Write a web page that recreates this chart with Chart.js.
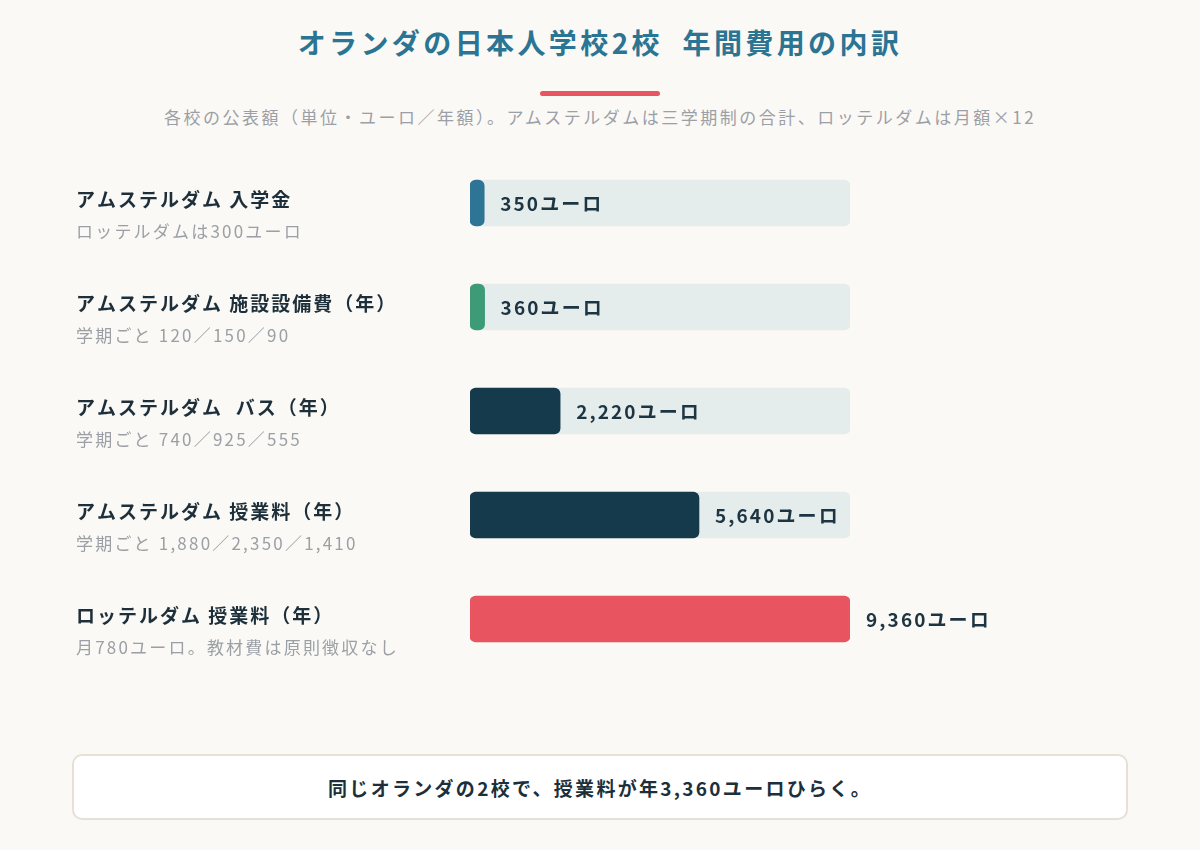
<!DOCTYPE html>
<html lang="ja">
<head>
<meta charset="utf-8">
<script src="https://cdn.jsdelivr.net/npm/chart.js@4.4.1/dist/chart.umd.min.js"></script>
<style>
  html, body { margin: 0; padding: 0; }
  body {
    width: 1200px; height: 850px; position: relative; overflow: hidden;
    background: #fbf9f5;
    font-family: "Noto Sans CJK JP", "Noto Sans", sans-serif;
  }
  #title {
    position: absolute; left: 0; width: 1200px; top: 20px; text-align: center;
    font-size: 28px; font-weight: 700; color: #2b7594; letter-spacing: 3.4px;
    line-height: 44px;
  }
  #rule {
    position: absolute; left: 540px; top: 91px; width: 120px; height: 5px;
    background: #e85560; border-radius: 3px;
  }
  #subtitle {
    position: absolute; left: 0; width: 1200px; top: 104px; text-align: center;
    font-size: 17px; color: #9ba0a6; letter-spacing: 2.5px; line-height: 26px;
  }
  #wrap { position: absolute; left: 0; top: 151px; width: 1200px; height: 520px; }
  #footer {
    position: absolute; left: 72px; top: 754px; width: 1052px; height: 62px;
    background: #ffffff; border: 2px solid #e6e0d6; border-radius: 10px;
    display: flex; align-items: center; justify-content: center;
    font-size: 19px; font-weight: 700; color: #1d2f3a; letter-spacing: 2.3px;
  }
</style>
</head>
<body>
<div id="title">オランダの日本人学校2校&nbsp;&nbsp;年間費用の内訳</div>
<div id="rule"></div>
<div id="subtitle">各校の公表額（単位・ユーロ／年額）。アムステルダムは三学期制の合計、ロッテルダムは月額×12</div>
<div id="wrap"><canvas id="c"></canvas></div>
<div id="footer">同じオランダの2校で、授業料が年3,360ユーロひらく。</div>
<script>
const categories = [
  "アムステルダム 入学金",
  "アムステルダム 施設設備費（年）",
  "アムステルダム  バス（年）",
  "アムステルダム 授業料（年）",
  "ロッテルダム 授業料（年）"
];
const notes = [
  "ロッテルダムは300ユーロ",
  "学期ごと 120／150／90",
  "学期ごと 740／925／555",
  "学期ごと 1,880／2,350／1,410",
  "月780ユーロ。教材費は原則徴収なし"
];
const values = [350, 360, 2220, 5640, 9360];
const valueLabels = ["350ユーロ", "360ユーロ", "2,220ユーロ", "5,640ユーロ", "9,360ユーロ"];
const barColors = ["#2e7494", "#3e9b78", "#153a4c", "#153a4c", "#e85560"];
const axisMax = 9360;

const trackData = categories.map(() => axisMax);

const labelPlugin = {
  id: 'sideLabels',
  afterDatasetsDraw(chart) {
    const ctx = chart.ctx;
    const yScale = chart.scales.y;
    const meta = chart.getDatasetMeta(0);
    ctx.save();
    ctx.textBaseline = 'middle';
    ctx.textAlign = 'left';
    categories.forEach((cat, i) => {
      const y = yScale.getPixelForValue(i);
      ctx.letterSpacing = '2px';
      ctx.font = '700 19px "Noto Sans CJK JP"';
      ctx.fillStyle = '#1d2f3a';
      ctx.fillText(cat, 76, y - 3);
      ctx.letterSpacing = '2.2px';
      ctx.font = '400 17px "Noto Sans CJK JP"';
      ctx.fillStyle = '#9ba0a6';
      ctx.fillText(notes[i], 76, y + 29);
      const bar = meta.data[i];
      ctx.letterSpacing = '2.1px';
      ctx.font = '700 19px "Noto Sans CJK JP"';
      ctx.fillStyle = '#1d3542';
      ctx.fillText(valueLabels[i], bar.x + 16, y + 1);
    });
    ctx.restore();
  }
};

new Chart(document.getElementById('c'), {
  type: 'bar',
  data: {
    labels: categories,
    datasets: [
      {
        data: values,
        backgroundColor: barColors,
        borderRadius: 6,
        borderSkipped: false,
        barThickness: 46,
        grouped: false,
        order: 0
      },
      {
        data: trackData,
        backgroundColor: '#e5ecec',
        borderRadius: 6,
        borderSkipped: false,
        barThickness: 46,
        grouped: false,
        order: 1
      }
    ]
  },
  options: {
    indexAxis: 'y',
    responsive: true,
    maintainAspectRatio: false,
    animation: false,
    layout: { padding: { left: 470, right: 350, top: 0, bottom: 0 } },
    plugins: { legend: { display: false }, tooltip: { enabled: false } },
    scales: {
      x: { display: false, min: 0, max: axisMax },
      y: { display: false }
    }
  },
  plugins: [labelPlugin]
});
</script>
</body>
</html>
